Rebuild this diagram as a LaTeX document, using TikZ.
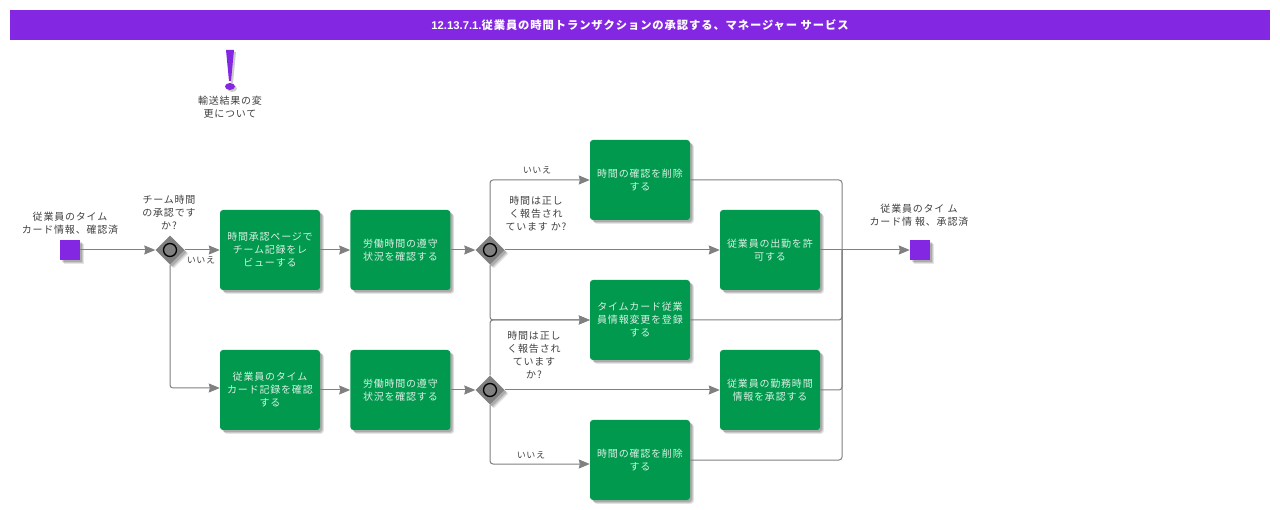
\documentclass[tikz,border=0pt]{standalone}
\usepackage{fontspec}
\setmainfont[LetterSpace=8]{Noto Sans CJK JP}
\newfontfamily\numfont{Liberation Sans}
\usetikzlibrary{positioning}
\usetikzlibrary{arrows.meta}
\usetikzlibrary{shapes.geometric}
\usetikzlibrary{shadows}
\definecolor{barpurple}{RGB}{132,39,226}
\definecolor{taskgreen}{RGB}{0,153,77}
\definecolor{flowgray}{RGB}{128,128,128}
\tikzset{
        boxshadow/.style={
            drop shadow={shadow xshift=3.8pt, shadow yshift=-3.8pt, fill=black, opacity=0.1},
            drop shadow={shadow xshift=3pt, shadow yshift=-3pt, fill=black, opacity=0.12},
            drop shadow={shadow xshift=2pt, shadow yshift=-2pt, fill=black, opacity=0.15}},
        % Title bar
        node_title/.style={rectangle, fill=barpurple, text=white, inner sep=0pt, minimum width=1260pt, minimum height=30pt, font=\fontsize{11.3}{13}\selectfont\bfseries},
        % Tasks
        node_task/.style={rectangle, rounded corners=3pt, fill=taskgreen, boxshadow, text=white!85!taskgreen, align=center, inner sep=0pt, minimum width=100pt, minimum height=80pt, font=\fontsize{10}{13}\selectfont},
        % Gateways
        node_gateway/.style={diamond, fill=flowgray, boxshadow, inner sep=0pt, minimum width=29pt, minimum height=29pt},
        node_ring/.style={circle, draw=black, line width=1.3pt, fill=flowgray, inner sep=0pt, minimum size=13pt},
        % Start and end events
        node_event/.style={rectangle, fill=barpurple, boxshadow, inner sep=0pt, minimum size=20pt},
        % Free texts
        node_text/.style={align=center, inner sep=0pt, text=black!75, font=\fontsize{10}{13}\selectfont},
        node_no/.style={align=center, inner sep=0pt, text=black!75, font=\fontsize{9}{10}\selectfont},
        % Connectors
        flow/.style={draw=flowgray, line width=1pt, rounded corners=3pt},
        flow_arrow/.style={flow, -{Stealth[length=11pt, width=9pt, inset=1pt, fill=flowgray]}}
}
\begin{document}
\begin{tikzpicture}[x=1pt, y=-1pt]
    \useasboundingbox (0,0) rectangle (1280,510);

    \node[node_title] (title) at (640,25) {{\numfont 12.13.7.1.}従業員の時間トランザクションの承認する、マネージャー サービス};

    % Upper row
    \node[node_event] (start) at (70,250) {};
    \node[node_gateway] (gate_team) at (170,250) {};
    \node[node_ring] (ring_team) at (gate_team) {};
    \node[node_task] (task_review) at (270,250) {時間承認ページで\\チーム記録をレ\\ビューする};
    \node[node_task, right=30pt of task_review] (task_labor_a) {労働時間の遵守\\状況を確認する};
    \node[node_gateway] (gate_right_a) at (490,250) {};
    \node[node_ring] (ring_right_a) at (gate_right_a) {};
    \node[node_task] (task_delete_a) at (640,180) {時間の確認を削除\\する};
    \node[node_task] (task_allow) at (770,250) {従業員の出勤を許\\可する};
    \node[node_task] (task_register) at (640,320) {タイムカード従業\\員情報変更を登録\\する};
    \node[node_event] (finish) at (920,250) {};

    % Lower row
    \node[node_task] (task_check) at (270,390) {従業員のタイム\\カード記録を確認\\する};
    \node[node_task, right=30pt of task_check] (task_labor_b) {労働時間の遵守\\状況を確認する};
    \node[node_gateway] (gate_right_b) at (490,390) {};
    \node[node_ring] (ring_right_b) at (gate_right_b) {};
    \node[node_task] (task_approve) at (770,390) {従業員の勤務時間\\情報を承認する};
    \node[node_task] (task_delete_b) at (640,460) {時間の確認を削除\\する};

    \coordinate (bus) at (842,250);

    % Note
    \fill[black, opacity=0.2] (228,52) -- (236,52) -- (233,83) -- (231,83) -- cycle;
    \fill[black, opacity=0.2] (232,88.5) ellipse (5pt and 3.5pt);
    \fill[barpurple] (226,50) -- (234,50) -- (231,81) -- (229,81) -- cycle;
    \fill[barpurple] (230,86.5) ellipse (5pt and 3.5pt);
    \node[node_text] (note) at (230,107) {輸送結果の変\\更について};

    % Texts
    \node[node_text] (text_start) at (70,223) {従業員のタイム\\カード情報、確認済};
    \node[node_text] (text_team) at (169,212.5) {チーム時間\\の承認です\\か?};
    \node[node_text] (text_right_a) at (536,214) {時間は正し\\く報告され\\ています か?};
    \node[node_text] (text_right_b) at (534,354.5) {時間は正し\\く報告され\\ています\\か?};
    \node[node_text] (text_finish) at (919,215) {従業員のタイ ム\\カード情 報、承認済};
    \node[node_no] (no_team) at (201,260) {いいえ};
    \node[node_no] (no_right_a) at (537,170) {いいえ};
    \node[node_no] (no_right_b) at (531,455) {いいえ};

    % Connectors
    \draw[flow_arrow] (start.east) -- (gate_team.west);
    \draw[flow_arrow] (gate_team.east) -- (task_review.west);
    \draw[flow_arrow] (gate_team.south) |- ([yshift=2pt]task_check.west);
    \draw[flow_arrow] (task_review.east) -- (task_labor_a.west);
    \draw[flow_arrow] (task_labor_a.east) -- (gate_right_a.west);
    \draw[flow_arrow] (gate_right_a.north) |- (task_delete_a.west);
    \draw[flow_arrow] (gate_right_a.east) -- (task_allow.west);
    \draw[flow_arrow] (gate_right_a.south) |- (task_register.west);
    \draw[flow_arrow] (task_check.east) -- (task_labor_b.west);
    \draw[flow_arrow] (task_labor_b.east) -- (gate_right_b.west);
    \draw[flow_arrow] (gate_right_b.north) |- (task_register.west);
    \draw[flow_arrow] (gate_right_b.east) -- (task_approve.west);
    \draw[flow_arrow] (gate_right_b.south) |- ([yshift=-4pt]task_delete_b.west);
    \draw[flow] (task_delete_a.east) -| (bus);
    \draw[flow] (task_register.east) -| (bus);
    \draw[flow] (task_approve.east) -| (bus);
    \draw[flow] (task_delete_b.east) -| (bus);
    \draw[flow_arrow] (task_allow.east) -- (finish.west);
\end{tikzpicture}
\end{document}
